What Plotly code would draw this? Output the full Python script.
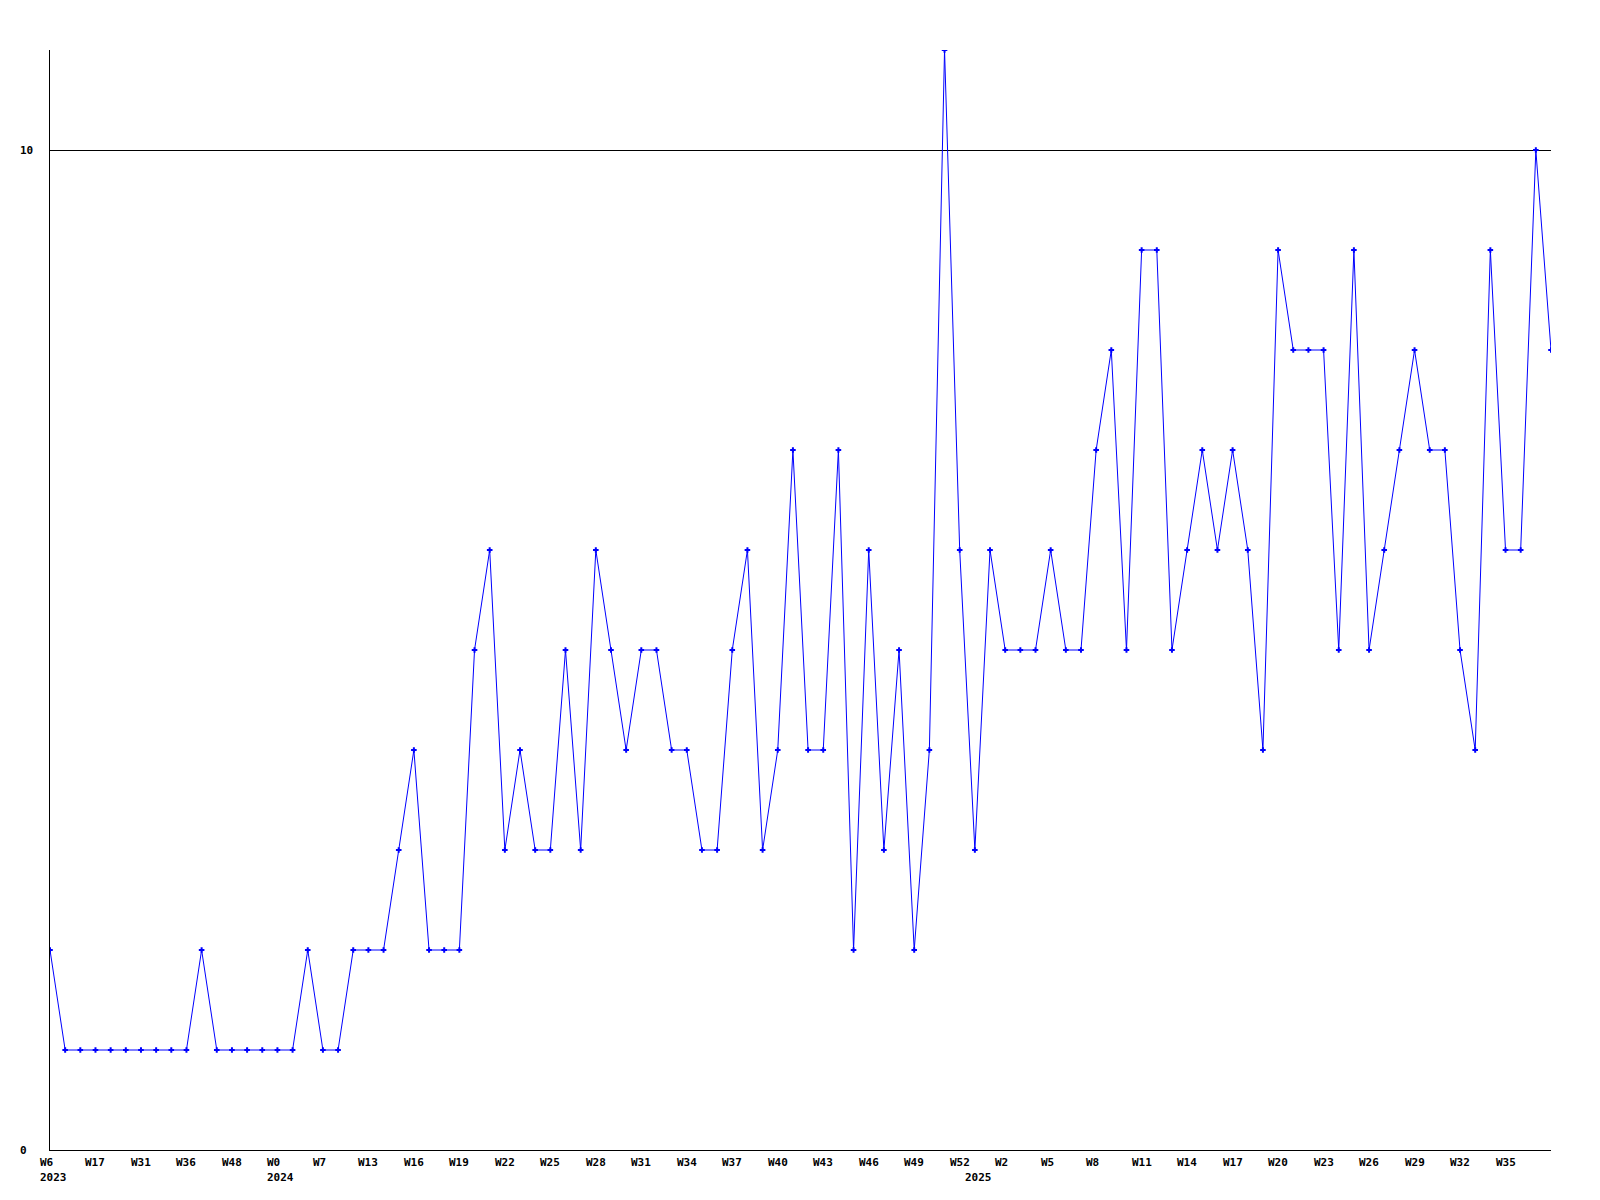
import plotly.graph_objects as go

values = [2, 1, 1, 1, 1, 1, 1, 1, 1, 1,
          2, 1, 1, 1, 1, 1, 1, 2, 1, 1,
          2, 2, 2, 3, 4, 2, 2, 2, 5, 6,
          3, 4, 3, 3, 5, 3, 6, 5, 4, 5,
          5, 4, 4, 3, 3, 5, 6, 3, 4, 7,
          4, 4, 7, 2, 6, 3, 5, 2, 4, 11,
          6, 3, 6, 5, 5, 5, 6, 5, 5, 7,
          8, 5, 9, 9, 5, 6, 7, 6, 7, 6,
          4, 9, 8, 8, 8, 5, 9, 5, 6, 7,
          8, 7, 7, 5, 4, 9, 6, 6, 10, 8]

tick_labels = ["W6", "W17", "W31", "W36", "W48", "W0", "W7", "W13", "W16", "W19", "W22",
               "W25", "W28", "W31", "W34", "W37", "W40", "W43", "W46", "W49", "W52", "W2", "W5",
               "W8", "W11", "W14", "W17", "W20", "W23", "W26", "W29", "W32", "W35"]
tick_step = 3
year_labels = ["2023", "2024", "2025"]
year_index = [0, 15, 61]
y_ticks = [0, 10]

x = list(range(len(values)))
font = dict(family="DejaVu Sans Mono", size=11, color="black")

fig = go.Figure()
fig.add_trace(go.Scatter(
    x=x, y=values, mode="lines+markers",
    line=dict(color="#0000ff", width=1),
    marker=dict(symbol="cross-thin", size=4, color="#0000ff",
                line=dict(color="#0000ff", width=2)),
    hoverinfo="x+y", showlegend=False,
))

annotations = []
for k, lab in enumerate(tick_labels):
    annotations.append(dict(x=k * tick_step, y=0, xref="x", yref="y", text="<b>" + lab + "</b>",
                            showarrow=False, xanchor="left", yanchor="top",
                            xshift=-12, yshift=-4, font=font))
for lab, idx in zip(year_labels, year_index):
    annotations.append(dict(x=idx, y=0, xref="x", yref="y", text="<b>" + lab + "</b>",
                            showarrow=False, xanchor="left", yanchor="top",
                            xshift=-12, yshift=-19, font=font))
for v in y_ticks:
    annotations.append(dict(x=0, y=v, xref="x", yref="y", text="<b>" + str(v) + "</b>",
                            showarrow=False, xanchor="left", yanchor="middle",
                            xshift=-32, font=font))

fig.update_layout(
    width=1592, height=1192,
    margin=dict(l=42, r=49, t=42, b=50),
    paper_bgcolor="white", plot_bgcolor="white",
    annotations=annotations,
    xaxis=dict(range=[0, len(values) - 1], showgrid=False, zeroline=False,
               showticklabels=False, ticks="", showline=True, linecolor="black",
               linewidth=1, mirror=False),
    yaxis=dict(range=[0, 11], tickvals=[10], showgrid=True, gridcolor="black",
               gridwidth=1, zeroline=False, showticklabels=False, ticks="",
               showline=True, linecolor="black", linewidth=1, mirror=False),
)

fig.write_html("out.html")
